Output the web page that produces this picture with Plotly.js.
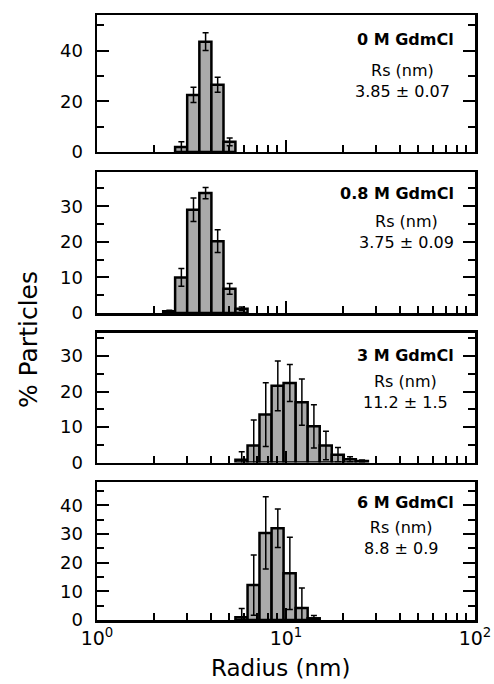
<!DOCTYPE html>
<html><head><meta charset="utf-8">
<script src="https://cdn.plot.ly/plotly-3.0.1.min.js"></script>
<style>html,body{margin:0;padding:0;background:#fff;} #chart{width:494px;height:684px;}</style>
</head><body><div id="chart"></div>
<script>
// Histogram bin edges (radius, nm) - log spaced bins
const binEdges = [2.24, 2.59, 3.00, 3.48, 4.03, 4.67, 5.40, 6.26, 7.24, 8.39, 9.71, 11.25, 13.02, 15.08, 17.46, 20.22, 23.42, 27.12, 31.4];

// % particles per bin and error, one pair per GdmCl concentration
const pct_0M   = [null, 2, 22.5, 43.5, 26.5, 4, null, null, null, null, null, null, null, null, null, null, null, null];
const err_0M   = [null, 2, 3, 3.5, 3, 1.5, null, null, null, null, null, null, null, null, null, null, null, null];
const pct_08M  = [0.5, 10, 29, 33.7, 20.2, 6.8, 1.2, null, null, null, null, null, null, null, null, null, null, null];
const err_08M  = [0.3, 2.5, 3.3, 1.6, 3.2, 1.5, 0.5, null, null, null, null, null, null, null, null, null, null, null];
const pct_3M   = [null, null, null, null, null, null, 0.8, 4.8, 13.5, 21.6, 22.4, 17, 10.2, 4.8, 2.2, 0.9, 0.4, null];
const err_3M   = [null, null, null, null, null, null, 2.2, 7.2, 9, 7, 5.2, 6.5, 6.1, 4, 2, 0.7, 0.3, null];
const pct_6M   = [null, null, null, null, null, null, 1, 12.2, 30.4, 32, 16.3, 4.2, 0.6, null, null, null, null, null];
const err_6M   = [null, null, null, null, null, null, 3, 10.5, 12.6, 6.7, 12.6, 7, 1, null, null, null, null, null];

const panelLabels = ['0 M GdmCl', '0.8 M GdmCl', '3 M GdmCl', '6 M GdmCl'];
const rsHeader = 'Rs (nm)';
const rsValues = ['3.85 ± 0.07', '3.75 ± 0.09', '11.2 ± 1.5', '8.8 ± 0.9'];
const yRanges = [[0, 54], [0, 39.5], [0, 36.5], [0, 48]];
const yDticks = [20, 10, 10, 10];
const xTickVals = [1, 10, 100];
const xTickText = ['10<sup>0</sup>', '10<sup>1</sup>', '10<sup>2</sup>'];
const xMinorVals = [2, 3, 4, 5, 6, 7, 8, 9, 20, 30, 40, 50, 60, 70, 80, 90];

const seriesPct = [pct_0M, pct_08M, pct_3M, pct_6M];
const seriesErr = [err_0M, err_08M, err_3M, err_6M];

// layout geometry (paper fractions)
const yDomains = [[0.7736, 1], [0.5074, 0.7397], [0.2603, 0.4744], [0, 0.2273]];
const titlePos = [[0.9498, 0.9603], [0.9498, 0.7050], [0.9498, 0.4364], [0.9498, 0.1934]];
const rsPos = [[0.807, 0.8912], [0.8177, 0.6409], [0.815, 0.3773], [0.8032, 0.1350]];

const leftEdges = binEdges.slice(0, -1);
const widths = leftEdges.map((e, i) => binEdges[i + 1] - e);

const data = seriesPct.map((pct, i) => ({
  type: 'bar',
  x: leftEdges,
  y: pct,
  width: widths,
  offset: 0,
  xaxis: 'x' + (i + 1),
  yaxis: 'y' + (i + 1),
  marker: {color: '#aaaaaa', line: {color: '#000', width: 2.5}},
  error_y: {type: 'data', array: seriesErr[i], visible: true, color: '#000', thickness: 1.5, width: 3},
  hoverinfo: 'skip'
}));

const font = {family: 'DejaVu Sans, Liberation Sans, Arial, sans-serif', color: '#000'};
const layout = {
  width: 494, height: 684,
  margin: {l: 96.5, r: 19, t: 15, b: 64},
  paper_bgcolor: '#fff', plot_bgcolor: '#fff',
  showlegend: false,
  font: font,
  annotations: []
};

for (let i = 0; i < 4; i++) {
  const n = i + 1;
  const xk = n === 1 ? 'xaxis' : 'xaxis' + n;
  const yk = n === 1 ? 'yaxis' : 'yaxis' + n;
  layout[xk] = {
    type: 'log', range: [0, 2], domain: [0, 1], anchor: 'y' + n,
    showline: true, linewidth: 2.5, linecolor: '#000', mirror: true,
    ticks: 'inside', ticklen: 12, tickwidth: 2, tickcolor: '#000',
    tickmode: 'array', tickvals: xTickVals, ticktext: xTickText,
    showticklabels: n === 4, tickfont: {size: 19},
    showgrid: false, zeroline: false,
    minor: {ticks: 'inside', ticklen: 7, tickwidth: 2, tickcolor: '#000', tickmode: 'array', tickvals: xMinorVals, showgrid: false}
  };
  if (n !== 1) layout[xk].matches = 'x';
  layout[yk] = {
    domain: yDomains[i], range: yRanges[i], anchor: 'x' + n,
    showline: true, linewidth: 2.5, linecolor: '#000', mirror: 'ticks',
    ticks: 'inside', ticklen: 12, tickwidth: 2, tickcolor: '#000',
    tick0: 0, dtick: yDticks[i], tickfont: {size: 18}, ticklabelstandoff: 8,
    showgrid: false, zeroline: false,
    minor: {ticks: 'inside', ticklen: 7, tickwidth: 2, tickcolor: '#000', dtick: yDticks[i] / 2, showgrid: false}
  };
  layout.annotations.push({
    xref: 'paper', yref: 'paper', x: titlePos[i][0], y: titlePos[i][1],
    xanchor: 'right', yanchor: 'middle', showarrow: false,
    text: '<b>' + panelLabels[i] + '</b>', font: {size: 16}
  });
  layout.annotations.push({
    xref: 'paper', yref: 'paper', x: rsPos[i][0], y: rsPos[i][1],
    xanchor: 'center', yanchor: 'middle', align: 'center', showarrow: false,
    text: rsHeader + '<br>' + rsValues[i], font: {size: 16}
  });
}

layout.annotations.push({
  xref: 'paper', yref: 'paper', x: 0.486, y: -0.079,
  xanchor: 'center', yanchor: 'middle', showarrow: false,
  text: 'Radius (nm)', font: {size: 23}
});
layout.annotations.push({
  xref: 'paper', yref: 'paper', x: -0.181, y: 0.4636,
  xanchor: 'center', yanchor: 'middle', showarrow: false, textangle: -90,
  text: '% Particles', font: {size: 25}
});

Plotly.newPlot('chart', data, layout, {displayModeBar: false, staticPlot: true});
</script>
</body></html>
